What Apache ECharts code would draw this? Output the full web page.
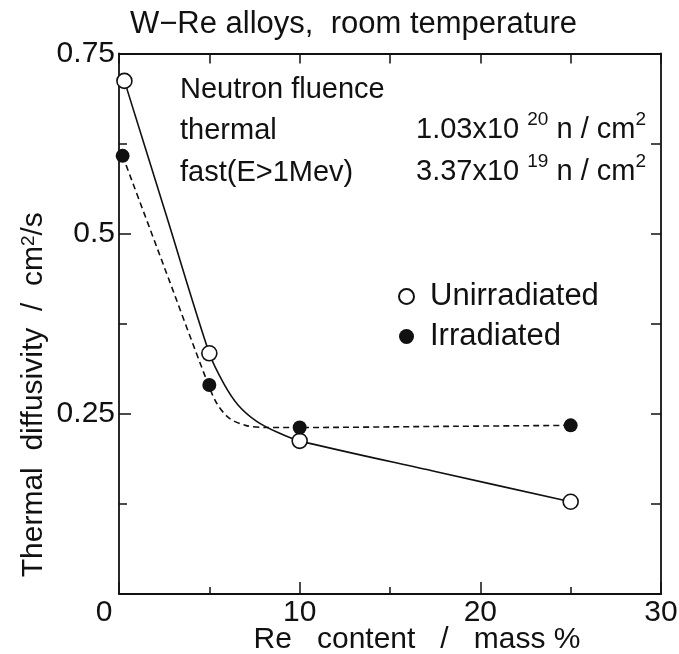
<!DOCTYPE html>
<html>
<head>
<meta charset="utf-8">
<script src="https://cdn.jsdelivr.net/npm/echarts@6/dist/echarts.min.js"></script>
<style>
  html, body { margin: 0; padding: 0; background: #ffffff; }
  #chart { width: 679px; height: 654px; }
</style>
</head>
<body>
<div id="chart"></div>
<script>
// Measured points: Re content (mass %) vs thermal diffusivity (cm^2/s)
const reUnirr = [0.3, 5, 10, 25];
const diffUnirr = [0.712, 0.334, 0.2125, 0.128];
const reIrr = [0.2, 5, 10, 25];
const diffIrr = [0.608, 0.290, 0.231, 0.234];

// Hand-drawn guide curves, traced along their length
const guideUnirrX = [0.3, 2.6, 5, 5.8, 6.6, 7.6, 8.8, 10, 17.5, 25];
const guideUnirrY = [0.712, 0.527, 0.334, 0.292, 0.262, 0.240, 0.224, 0.2125, 0.170, 0.128];
const guideIrrX = [0.2, 2.5, 4.8, 5.4, 6.1, 7.0, 8.2, 10, 17.5, 25];
const guideIrrY = [0.608, 0.454, 0.300, 0.265, 0.244, 0.234, 0.231, 0.231, 0.2325, 0.234];

// Axis ticks
const xTicks = [0, 10, 20, 30];
const yTicks = [0, 0.25, 0.5, 0.75];

const zip = (a, b) => a.map((v, i) => [v, b[i]]);
const FONT = 'Liberation Sans, Arial, Helvetica, sans-serif';
const BLACK = '#111111';

const chart = echarts.init(document.getElementById('chart'), null, { renderer: 'canvas' });

const xMin = xTicks[0], xMax = xTicks[xTicks.length - 1];
const yMin = yTicks[0], yMax = yTicks[yTicks.length - 1];

// Rich-text styles for the fluence lines (superscript exponents)
const fluenceRich = {
  n: { fontFamily: FONT, fontSize: 29, fill: BLACK, lineHeight: 34, verticalAlign: 'bottom' },
  s: { fontFamily: FONT, fontSize: 19, fill: BLACK, lineHeight: 34, verticalAlign: 'top' }
};

chart.setOption({
  backgroundColor: '#ffffff',
  animation: false,
  textStyle: { fontFamily: FONT, color: BLACK },
  title: {
    text: 'W\u2212Re alloys,  room temperature',
    left: 130,
    top: 9,
    padding: 0,
    textStyle: { fontFamily: FONT, fontSize: 31, fontWeight: 'normal', color: BLACK }
  },
  grid: {
    left: 119, right: 18, top: 53.5, bottom: 60,
    containLabel: false,
    outerBoundsMode: 'none'
  },
  legend: {
    orient: 'vertical',
    left: 393,
    top: 276,
    itemWidth: 15,
    itemHeight: 15,
    itemGap: 9,
    icon: 'circle',
    data: ['Unirradiated', 'Irradiated'],
    textStyle: { fontFamily: FONT, fontSize: 31, color: BLACK, padding: [0, 0, 0, 11] },
    selectedMode: false
  },
  xAxis: [
    {
      type: 'value', position: 'bottom',
      min: xMin, max: xMax, interval: 10,
      axisLine: { show: true, onZero: false, lineStyle: { color: BLACK, width: 1.8 } },
      axisTick: { show: true, inside: true, length: 12, lineStyle: { color: BLACK, width: 1.5 } },
      minorTick: { show: true, splitNumber: 2, length: 7, lineStyle: { color: BLACK, width: 1.5 } },
      splitLine: { show: false },
      axisLabel: {
        fontFamily: FONT, fontSize: 30, color: BLACK, margin: 4,
        formatter: v => (v === 0 ? '{o|0}' : String(v)),
        rich: { o: { fontFamily: FONT, fontSize: 30, color: BLACK, padding: [0, 30, 0, 0] } }
      },
      name: 'Re   content   /   mass %',
      nameLocation: 'middle',
      nameGap: 31,
      nameMoveOverlap: false,
      nameTextStyle: { fontFamily: FONT, fontSize: 30, color: BLACK, padding: [0, 0, 0, 54] }
    },
    {
      type: 'value', position: 'top',
      min: xMin, max: xMax, interval: 5,
      axisLine: { show: true, onZero: false, lineStyle: { color: BLACK, width: 1.8 } },
      axisTick: { show: true, inside: true, length: 10, lineStyle: { color: BLACK, width: 1.5 } },
      axisLabel: { show: false },
      splitLine: { show: false }
    }
  ],
  yAxis: [
    {
      type: 'value', position: 'left',
      min: yMin, max: yMax, interval: 0.25,
      axisLine: { show: true, onZero: false, lineStyle: { color: BLACK, width: 1.8 } },
      axisTick: { show: true, inside: true, length: 12, lineStyle: { color: BLACK, width: 1.5 } },
      minorTick: { show: true, splitNumber: 2, length: 8, lineStyle: { color: BLACK, width: 1.5 } },
      splitLine: { show: false },
      axisLabel: {
        fontFamily: FONT, fontSize: 30, color: BLACK, margin: 4,
        formatter: v => (v === 0 ? '' : String(v))
      },
      name: 'Thermal  diffusivity  /  cm{sup|2}/s',
      nameLocation: 'middle',
      nameGap: 70,
      nameMoveOverlap: false,
      nameTextStyle: {
        fontFamily: FONT, fontSize: 30, color: BLACK,
        padding: [0, 142, 0, 0],
        rich: { sup: { fontFamily: FONT, fontSize: 19, color: BLACK, verticalAlign: 'top', lineHeight: 30 } }
      }
    },
    {
      type: 'value', position: 'right',
      min: yMin, max: yMax, interval: 0.125,
      axisLine: { show: true, onZero: false, lineStyle: { color: BLACK, width: 1.8 } },
      axisTick: { show: true, inside: true, length: 10, lineStyle: { color: BLACK, width: 1.5 } },
      axisLabel: { show: false },
      splitLine: { show: false }
    }
  ],
  graphic: [
    {
      type: 'text', left: 180, top: 75,
      style: { text: 'Neutron fluence', font: '29px ' + FONT, fill: BLACK }
    },
    {
      type: 'text', left: 180, top: 116,
      style: { text: 'thermal', font: '29px ' + FONT, fill: BLACK }
    },
    {
      type: 'text', left: 180, top: 158,
      style: { text: 'fast(E>1Mev)', font: '29px ' + FONT, fill: BLACK }
    },
    {
      type: 'text', left: 416, top: 110,
      style: { text: '{n|1.03x10 }{s|20}{n| n / cm}{s|2}', font: '29px ' + FONT, fill: BLACK, rich: fluenceRich }
    },
    {
      type: 'text', left: 416, top: 152,
      style: { text: '{n|3.37x10 }{s|19}{n| n / cm}{s|2}', font: '29px ' + FONT, fill: BLACK, rich: fluenceRich }
    }
  ],
  series: [
    {
      name: 'guide-unirradiated',
      type: 'line',
      xAxisIndex: 0, yAxisIndex: 0,
      data: zip(guideUnirrX, guideUnirrY),
      smooth: 0.3,
      showSymbol: false,
      symbol: 'none',
      lineStyle: { color: BLACK, width: 1.6, type: 'solid' },
      z: 2,
      silent: true
    },
    {
      name: 'guide-irradiated',
      type: 'line',
      xAxisIndex: 0, yAxisIndex: 0,
      data: zip(guideIrrX, guideIrrY),
      smooth: 0.3,
      showSymbol: false,
      symbol: 'none',
      lineStyle: { color: BLACK, width: 1.6, type: [6, 4] },
      z: 2,
      silent: true
    },
    {
      name: 'Unirradiated',
      type: 'scatter',
      xAxisIndex: 0, yAxisIndex: 0,
      data: zip(reUnirr, diffUnirr),
      symbol: 'circle',
      symbolSize: 15,
      itemStyle: { color: '#ffffff', borderColor: BLACK, borderWidth: 1.6, opacity: 1 },
      z: 4
    },
    {
      name: 'Irradiated',
      type: 'scatter',
      xAxisIndex: 0, yAxisIndex: 0,
      data: zip(reIrr, diffIrr),
      symbol: 'circle',
      symbolSize: 14,
      itemStyle: { color: BLACK, opacity: 1 },
      z: 5
    }
  ]
});
</script>
</body>
</html>
